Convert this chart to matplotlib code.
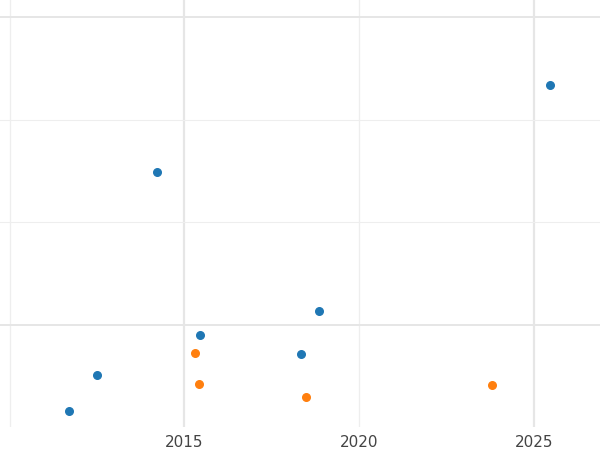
import matplotlib.pyplot as plt

blue_x = [2011.69, 2012.49, 2014.21, 2015.44, 2018.34, 2018.85, 2025.47]
blue_y = [0.16, 0.51, 2.49, 0.90, 0.71, 1.13, 3.34]
orange_x = [2015.30, 2015.42, 2018.48, 2023.81]
orange_y = [0.72, 0.42, 0.29, 0.41]

fig = plt.figure(figsize=(6, 4.5), dpi=100)
ax = fig.add_axes([0, 0.051, 1, 0.949])

# grid: heavier and lighter lines
for x in [2015, 2025]:
    ax.axvline(x, color="#e6e6e6", lw=1.6, zorder=0)
for x in [2010, 2020]:
    ax.axvline(x, color="#eeeeee", lw=0.9, zorder=0)
for y in [1, 4]:
    ax.axhline(y, color="#e6e6e6", lw=1.4, zorder=0)
for y in [2, 3]:
    ax.axhline(y, color="#eeeeee", lw=0.8, zorder=0)

ax.scatter(blue_x, blue_y, s=30, color="#1f77b4", zorder=3)
ax.scatter(orange_x, orange_y, s=30, color="#ff7f0e", zorder=3)

ax.set_xlim(2009.72, 2026.9)
ax.set_ylim(0, 4.17)
ax.set_xticks([2015, 2020, 2025])
ax.set_yticks([])
ax.tick_params(axis="x", length=0, labelsize=11, labelcolor="#444444", pad=6)
for s in ax.spines.values():
    s.set_visible(False)

fig.savefig("out.png", dpi=100)
